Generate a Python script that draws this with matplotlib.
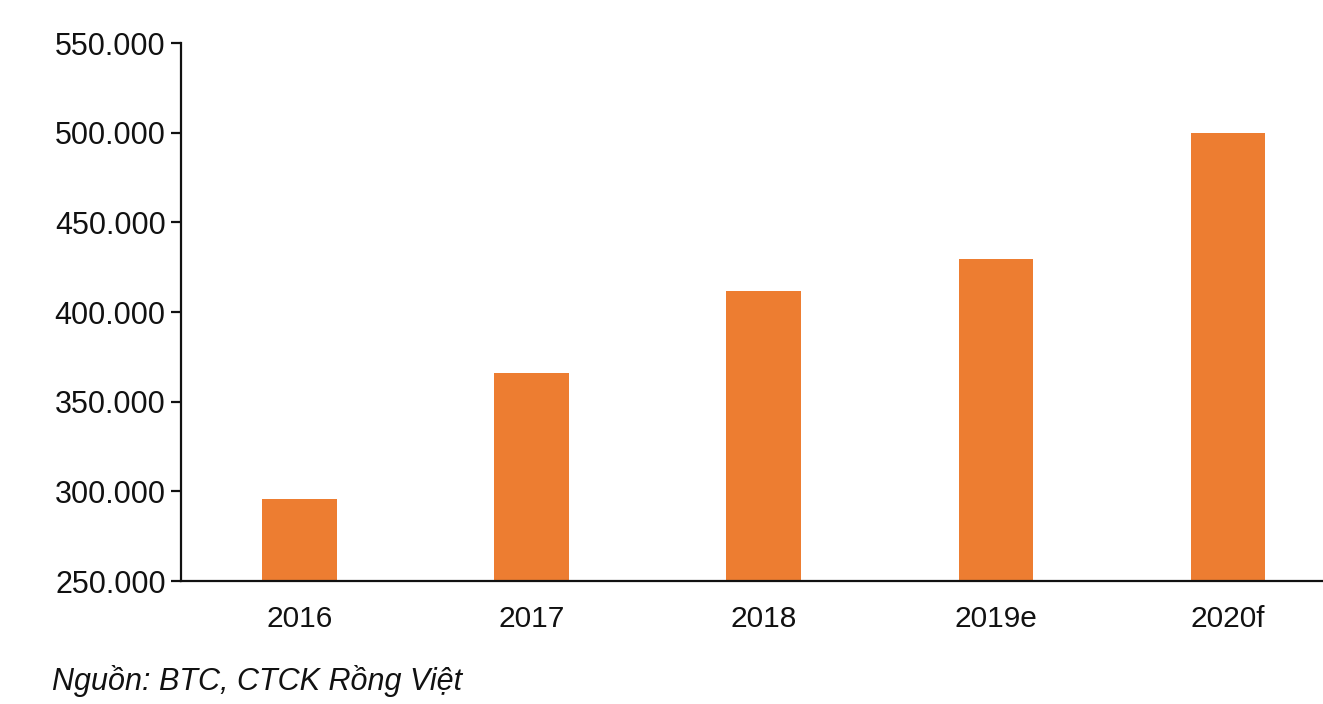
import matplotlib.pyplot as plt
from matplotlib.ticker import FuncFormatter

years = ['2016', '2017', '2018', '2019e', '2020f']
values = [296000, 366000, 411500, 429500, 500000]

plt.rcParams['font.family'] = ['Liberation Sans', 'DejaVu Sans']

fig = plt.figure(figsize=(13.23, 7.04), dpi=100)
ax = fig.add_axes([0.1368, 0.1747, 0.8632, 0.7642])

x = range(len(years))
ax.bar(x, values, width=0.32, color='#ED7D31', zorder=2)

ax.set_ylim(250000, 550000)
ax.set_xlim(-0.51, 4.41)
ax.set_yticks(range(250000, 550001, 50000))
ax.yaxis.set_major_formatter(FuncFormatter(lambda v, p: '{:,.0f}'.format(v).replace(',', '.')))
ax.set_xticks(list(x))
ax.set_xticklabels(years)

for s in ['top', 'right']:
    ax.spines[s].set_visible(False)
for s in ['left', 'bottom']:
    ax.spines[s].set_linewidth(1.6)
    ax.spines[s].set_color('#111111')

ax.tick_params(axis='y', length=7, width=1.6, labelsize=22, pad=4, colors='#111111')
ax.tick_params(axis='x', length=0, labelsize=21.5, pad=17, colors='#111111')

fig.text(0.039, 0.02, 'Nguồn: BTC, CTCK Rồng Việt', fontsize=22, style='italic', color='#111111')

fig.savefig('out.png', dpi=100)
